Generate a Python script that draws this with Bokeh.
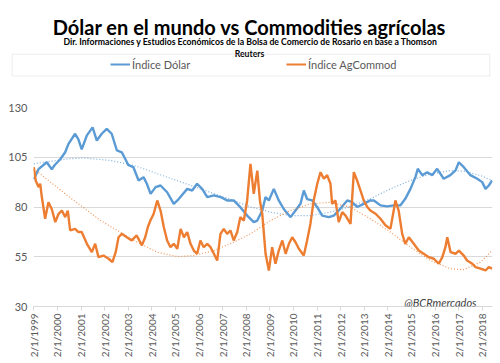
import math
from bokeh.plotting import figure
from bokeh.models import Range1d, FixedTicker, Label, Legend, LegendItem, BoxAnnotation
from bokeh.embed import file_html
from bokeh.resources import INLINE

# ---- data ----
dolar_x = [1999.0, 1999.2, 1999.55, 1999.76, 1999.88, 2000.12, 2000.33, 2000.47, 2000.75, 2000.89,
           2001.03, 2001.25, 2001.49, 2001.67, 2001.88, 2002.09, 2002.30, 2002.52, 2002.73, 2003.01,
           2003.22, 2003.44, 2003.65, 2003.79, 2003.95, 2004.16, 2004.37, 2004.65, 2004.93, 2005.14,
           2005.5, 2005.71, 2005.92, 2006.14, 2006.35, 2006.63, 2006.91, 2007.19, 2007.47, 2007.75,
           2008.04, 2008.32, 2008.47, 2008.68, 2008.82, 2008.96, 2009.17, 2009.38, 2009.59, 2009.88,
           2010.09, 2010.30, 2010.44, 2010.58, 2010.80, 2011.01, 2011.22, 2011.5, 2011.71, 2011.92,
           2012.28, 2012.49, 2012.70, 2012.98, 2013.26, 2013.41, 2013.69, 2013.97, 2014.25, 2014.53,
           2014.74, 2014.96, 2015.17, 2015.27, 2015.46, 2015.67, 2015.88, 2016.09, 2016.37, 2016.65,
           2016.87, 2017.01, 2017.22, 2017.5, 2017.79, 2018.0, 2018.14, 2018.28, 2018.42]
dolar_y = [94, 99, 102.5, 99, 101, 104, 107.5, 111.7, 116.8, 114,
           109, 116, 120, 113.4, 116.8, 119.3, 116.8, 108.4, 107.5, 101,
           100, 93.3, 95, 91.7, 86.6, 90, 90.8, 87.4, 81.6, 84,
           89.1, 88.3, 91.7, 89, 85, 85.8, 85, 83.3, 83.3, 79.9,
           75.7, 72.4, 73.2, 78.2, 85, 83.3, 89.1, 83.3, 79, 74.9,
           78.2, 81.6, 88.3, 84, 83.3, 79.9, 75.7, 74.9, 75.7, 78.2,
           83.3, 82.4, 80, 81.6, 83.3, 83.3, 80.8, 80.3, 80.8, 80.8,
           84.1, 89.1, 95, 99.2, 96, 97.5, 96, 99.2, 94.2, 96,
           98.4, 102.5, 100, 96, 94.2, 92.5, 89.1, 90.8, 93.4]

agcommod_x = [1999.0, 1999.08, 1999.2, 1999.27, 1999.34, 1999.48, 1999.62, 1999.76, 1999.91, 2000.05,
              2000.19, 2000.33, 2000.44, 2000.54, 2000.75, 2000.89, 2001.03, 2001.25, 2001.46, 2001.6,
              2001.74, 2001.95, 2002.17, 2002.33, 2002.47, 2002.59, 2002.73, 2002.94, 2003.15, 2003.36,
              2003.58, 2003.72, 2003.83, 2003.94, 2004.08, 2004.23, 2004.37, 2004.51, 2004.65, 2004.79,
              2004.93, 2005.08, 2005.22, 2005.36, 2005.5, 2005.64, 2005.78, 2005.92, 2006.06, 2006.2,
              2006.35, 2006.49, 2006.63, 2006.77, 2006.91, 2007.05, 2007.19, 2007.33, 2007.47, 2007.62,
              2007.75, 2007.9, 2008.04, 2008.18, 2008.32, 2008.47, 2008.58, 2008.68, 2008.82, 2008.96,
              2009.1, 2009.24, 2009.38, 2009.53, 2009.67, 2009.81, 2009.95, 2010.09, 2010.23, 2010.44,
              2010.58, 2010.72, 2010.86, 2011.01, 2011.15, 2011.29, 2011.43, 2011.57, 2011.64, 2011.78,
              2011.92, 2012.07, 2012.21, 2012.42, 2012.56, 2012.70, 2012.84, 2012.98, 2013.13, 2013.26,
              2013.48, 2013.69, 2013.9, 2014.11, 2014.25, 2014.32, 2014.46, 2014.61, 2014.74, 2014.89,
              2015.1, 2015.31, 2015.52, 2015.74, 2015.95, 2016.16, 2016.31, 2016.44, 2016.52, 2016.66,
              2016.87, 2017.01, 2017.22, 2017.36, 2017.58, 2017.72, 2017.93, 2018.14, 2018.28, 2018.42]
agcommod_y = [100, 93.3, 90, 91.7, 85, 74.1, 82.4, 79, 72.4, 76.6,
              78.2, 74.9, 78.2, 68.2, 69, 67.4, 67.4, 61.5, 57.3, 61.5,
              54.8, 55.6, 54, 52.3, 57.3, 64.8, 66.5, 64.8, 63.2, 65.7,
              60.7, 64.8, 69.8, 73.2, 76.6, 83.3, 78.2, 69.8, 63.2, 59.8,
              61.5, 59, 69, 64.8, 67.4, 61.5, 58.1, 56.5, 63.2, 59.8,
              61.5, 59.8, 56.5, 53.1, 66.5, 69, 66.5, 68.2, 63.2, 67.4,
              74.9, 73.2, 83.3, 101.7, 86.6, 98.3, 83.3, 76.6, 56.5, 48.1,
              59.8, 51.5, 58.1, 63.2, 56.5, 61.5, 64.8, 62.3, 59, 55.6,
              63.2, 71.5, 83.3, 91.7, 97.5, 94.2, 96, 91.7, 81.6, 83.3,
              72.4, 77.4, 75.7, 71.5, 97.5, 93.3, 88.3, 83.3, 80, 78.2,
              76.6, 74.1, 70.8, 69, 78.2, 83.3, 78.2, 66.5, 61.5, 64.8,
              61.5, 58.1, 56.5, 54.8, 54, 51.5, 54.8, 59.8, 64.8, 57.3,
              56.5, 58.1, 55.6, 53.1, 51.5, 49.8, 49, 48.1, 49.8, 49]

dolar_trend_x = [1999.0, 2000.42, 2001.12, 2002.25, 2003.24, 2004.65, 2006.06, 2007.47, 2008.18, 2009.03,
                 2009.87, 2010.72, 2011.57, 2012.42, 2013.26, 2014.11, 2014.96, 2015.81, 2016.65, 2017.22,
                 2017.93, 2018.42]
dolar_trend_y = [101.7, 104.2, 104.6, 103.4, 100.9, 95, 89.1, 83.3, 80, 77.4,
                 75.7, 75.7, 77.4, 80.2, 84.1, 89.1, 93.3, 96.6, 98.3, 98,
                 95.8, 93.3]

agcommod_trend_x = [1999.0, 2000.42, 2001.83, 2003.24, 2004.23, 2005.08, 2005.78, 2006.63, 2007.47, 2008.18,
                    2009.03, 2009.87, 2010.72, 2011.57, 2012.42, 2013.26, 2014.11, 2014.96, 2015.81, 2016.65,
                    2017.22, 2017.93, 2018.42]
agcommod_trend_y = [99.2, 85.8, 73.2, 63.2, 57.3, 55.1, 55.6, 58.1, 62.3, 66.5,
                    73.2, 78.2, 81.6, 82.4, 79.9, 74.1, 67.4, 59.8, 53.1, 49,
                    48.5, 52.3, 58.1]

tick_years = list(range(1999, 2019))
tick_labels = ["2/1/%d" % y for y in tick_years]
y_ticks = [30, 55, 80, 105, 130]

BLUE = "#5B9BD5"
ORANGE = "#ED7D31"
GRID = "#D9D9D9"
TXT = "#595959"
FONT = "Lato"
TITLE_FONT = "Lato"

W = 500
TOP_H = 86
MAIN_H = 277

# ---------------- header figure (titles + legend) ----------------
top = figure(width=W, height=TOP_H, output_backend="svg", toolbar_location=None,
             x_range=Range1d(0, W), y_range=Range1d(TOP_H, 0),
             x_axis_type=None, y_axis_type=None,
             min_border_left=0, min_border_right=0, min_border_top=0, min_border_bottom=0)
top.title.visible = False
top.outline_line_color = None
top.grid.visible = False
top.background_fill_color = "white"
top.border_fill_color = "white"

top.add_layout(Label(x=249, y=26.7, text="Dólar en el mundo vs Commodities agrícolas",
                     text_align="center", text_baseline="alphabetic",
                     text_font=TITLE_FONT, text_font_style="bold", text_font_size="20px", text_color="black"))
top.add_layout(Label(x=250, y=40.7,
                     text="Dir. Informaciones y Estudios Económicos de la Bolsa de Comercio de Rosario en base a Thomson",
                     text_align="center", text_baseline="alphabetic",
                     text_font=TITLE_FONT, text_font_style="bold", text_font_size="8.7px", text_color="black"))
top.add_layout(Label(x=249, y=52.7, text="Reuters",
                     text_align="center", text_baseline="alphabetic",
                     text_font=TITLE_FONT, text_font_style="bold", text_font_size="8.7px", text_color="black"))
top.add_layout(BoxAnnotation(left=11.7, right=489.3, top=53.7, bottom=75.5,
                             fill_alpha=0, line_color="#BFBFBF", line_width=1))

nan = float("nan")
leg_dolar = top.line([nan], [nan], line_color=BLUE, line_width=2)
leg_ag = top.line([nan], [nan], line_color=ORANGE, line_width=2)
legend = Legend(items=[LegendItem(label="Índice Dólar", renderers=[leg_dolar]),
                       LegendItem(label="Índice AgCommod", renderers=[leg_ag])],
                location=(110, TOP_H - 64.5 - 6), orientation="horizontal", padding=0, margin=0,
                spacing=94, glyph_width=20, glyph_height=12, label_height=12, label_width=60,
                label_standoff=2, border_line_color=None, background_fill_alpha=0,
                label_text_font=FONT, label_text_font_size="11px", label_text_color=TXT)
top.add_layout(legend)

# ---------------- main chart ----------------
p = figure(width=W, height=MAIN_H, output_backend="svg", toolbar_location=None,
           x_range=Range1d(1998.987, 2018.436), y_range=Range1d(30, 130),
           min_border_left=33, min_border_right=8, min_border_top=21, min_border_bottom=57)
p.title.visible = False
p.outline_line_color = None
p.background_fill_color = "white"
p.border_fill_color = "white"

p.line(dolar_x, dolar_y, line_color=BLUE, line_width=2.4)
p.line(agcommod_x, agcommod_y, line_color=ORANGE, line_width=2.4)
p.line(dolar_trend_x, dolar_trend_y, line_color=BLUE, line_width=1.2, line_dash="1 2", line_alpha=0.8)
p.line(agcommod_trend_x, agcommod_trend_y, line_color=ORANGE, line_width=1.2, line_dash="1 2", line_alpha=0.8)

xa = p.xaxis[0]
xa.ticker = FixedTicker(ticks=tick_years)
xa.major_label_overrides = {y: lab for y, lab in zip(tick_years, tick_labels)}
xa.major_label_orientation = math.pi / 2
xa.axis_line_color = GRID
xa.major_tick_line_color = GRID
xa.major_tick_out = 4
xa.major_tick_in = 0
xa.minor_tick_line_color = None
xa.major_label_standoff = 3
xa.major_label_text_font = FONT
xa.major_label_text_font_size = "10px"
xa.major_label_text_color = TXT

ya = p.yaxis[0]
ya.ticker = FixedTicker(ticks=y_ticks)
ya.axis_line_color = None
ya.major_tick_line_color = None
ya.minor_tick_line_color = None
ya.major_tick_out = 0
ya.major_tick_in = 0
ya.major_label_standoff = 6
ya.major_label_text_font = FONT
ya.major_label_text_font_size = "11px"
ya.major_label_text_color = TXT

p.xgrid.grid_line_color = None
p.ygrid.ticker = FixedTicker(ticks=y_ticks)
p.ygrid.grid_line_color = GRID

p.add_layout(Label(x=443, y=4.5, x_units="screen", y_units="screen", text="@BCRmercados",
                   text_align="right", text_baseline="alphabetic", text_font=FONT,
                   text_font_style="italic", text_font_size="11px", text_color="#404040"))

open("out.html", "w").write(file_html([top, p], INLINE))
